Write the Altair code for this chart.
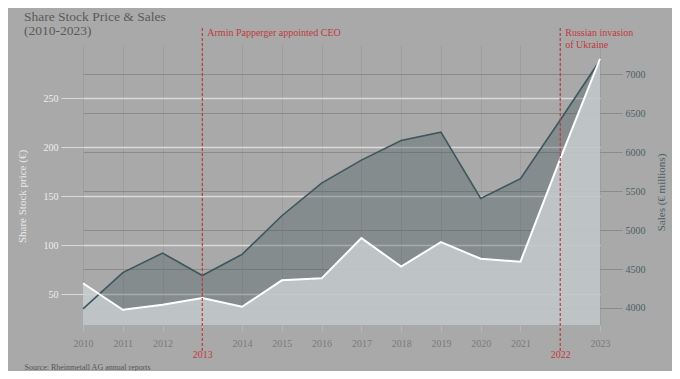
import altair as alt
import pandas as pd

years = list(range(2010, 2024))
stock_price = [61, 34, 39, 46, 37, 64, 66, 107, 78, 103, 86, 83, 188, 290]
sales = [3988, 4454, 4704, 4417, 4688, 5183, 5602, 5896, 6148, 6255, 5405, 5658, 6410, 7176]

event_years = [2013, 2022]
event_labels = ["Armin Papperger appointed CEO", "Russian invasion\nof Ukraine"]

stock_ticks = [50, 100, 150, 200, 250]
sales_ticks = [4000, 4500, 5000, 5500, 6000, 6500, 7000]

df = pd.DataFrame({"year": years, "stock": stock_price, "sales": sales})
ev = pd.DataFrame({"year": event_years, "label": event_labels})

FONT = "Liberation Serif"
RED = "#c0393d"
SLATE = "#3e565d"

x_axis = alt.Axis(
    values=years,
    format="d",
    labelOverlap=False,
    labelFlush=False,
    labelBound=False,
    grid=True,
    gridColor="#9d9d9d",
    gridWidth=1,
    domain=False,
    ticks=True,
    tickColor="#b9b9b9",
    tickSize=6,
    labelFont=FONT,
    labelFontSize=10,
    labelColor={"condition": {"test": "datum.value == 2013 || datum.value == 2022", "value": RED}, "value": "#7a7a7a"},
    labelPadding={"condition": {"test": "datum.value == 2013 || datum.value == 2022", "value": 18}, "value": 7},
    title="Source: Rheinmetall AG annual reports",
    titleFont=FONT,
    titleFontSize=8,
    titleFontWeight="normal",
    titleColor="#555555",
    titleAnchor="start",
    titleAlign="left",
    titleBaseline="alphabetic",
    titleX=-59,
    titleY=44,
)
x_scale = alt.Scale(domain=[2010, 2023], nice=False, zero=False)


def xe():
    return alt.X("year:Q", scale=x_scale, axis=x_axis)


stock_scale = alt.Scale(domain=[18.4, 304.1], nice=False, zero=False)
sales_scale = alt.Scale(domain=[3782, 7372], nice=False, zero=False)

base = alt.Chart(df)

sales_area = base.mark_area(color=SLATE, opacity=0.35, clip=True).encode(
    x=xe(),
    y=alt.Y(
        "sales:Q",
        scale=sales_scale,
        axis=alt.Axis(
            orient="right",
            values=sales_ticks,
            format="d",
            grid=True,
            gridColor="#8b8b8b",
            gridWidth=1,
            domain=False,
            tickColor="#8b8b8b",
            tickSize=22,
            labelPadding=3,
            labelFont=FONT,
            labelFontSize=10,
            labelColor="#4d5f66",
            title="Sales (€ millions)",
            titleFont=FONT,
            titleFontSize=11,
            titleFontWeight="normal",
            titleColor="#4d5f66",
            titleAngle=270,
            titleX=66,
            titleY=147,
        ),
    ),
)

stock_area = base.mark_area(color="#c8cecf", opacity=0.85, clip=True).encode(
    x=xe(),
    y=alt.Y(
        "stock:Q",
        scale=stock_scale,
        axis=alt.Axis(
            orient="left",
            values=stock_ticks,
            grid=True,
            gridColor="#dadada",
            gridWidth=1.3,
            domain=False,
            tickColor="#dadada",
            tickSize=22,
            labelPadding=3,
            labelFont=FONT,
            labelFontSize=10,
            labelColor="#eeeeee",
            title="Share Stock price (€)",
            titleFont=FONT,
            titleFontSize=11,
            titleFontWeight="normal",
            titleColor="#e8e8e8",
            titleAngle=270,
            titleX=-56,
            titleY=151,
        ),
    ),
)

sales_line = base.mark_line(color=SLATE, strokeWidth=1.6).encode(
    x=xe(),
    y=alt.Y("sales:Q", scale=sales_scale, axis=None),
)

stock_line = base.mark_line(color="#ffffff", strokeWidth=2).encode(
    x=xe(),
    y=alt.Y("stock:Q", scale=stock_scale, axis=None),
)

rules = alt.Chart(ev).mark_rule(color=RED, strokeDash=[3, 2], strokeWidth=1.2).encode(
    x=xe(),
    y=alt.value(-17),
    y2=alt.value(306),
)

notes = alt.Chart(ev).mark_text(
    align="left", baseline="middle", dx=5, font=FONT, fontSize=10, color=RED, lineBreak="\n", lineHeight=12
).encode(
    x=xe(),
    y=alt.value(-12),
    text="label:N",
)

chart = (
    alt.layer(sales_area, stock_area, sales_line, stock_line, rules, notes)
    .resolve_scale(y="independent")
    .properties(
        width=517,
        height=280,
        background="#a9a9a9",
        autosize=alt.AutoSizeParams(type="none"),
        padding={"left": 75, "top": 37, "right": 72, "bottom": 46},
        title=alt.TitleParams(
            ["Share Stock Price & Sales", "(2010-2023)"],
            anchor="start",
            frame="group",
            dx=-59,
            dy=20,
            font=FONT,
            fontSize=13.5,
            fontWeight="normal",
            color="#5a5a5a",
            lineHeight=14,
            offset=10,
        ),
    )
    .configure_view(stroke=None)
    .configure_axisX(labelOverlap=False, labelFlush=False)
)

chart.save("out.html", embed_options={"renderer": "svg", "actions": False})
